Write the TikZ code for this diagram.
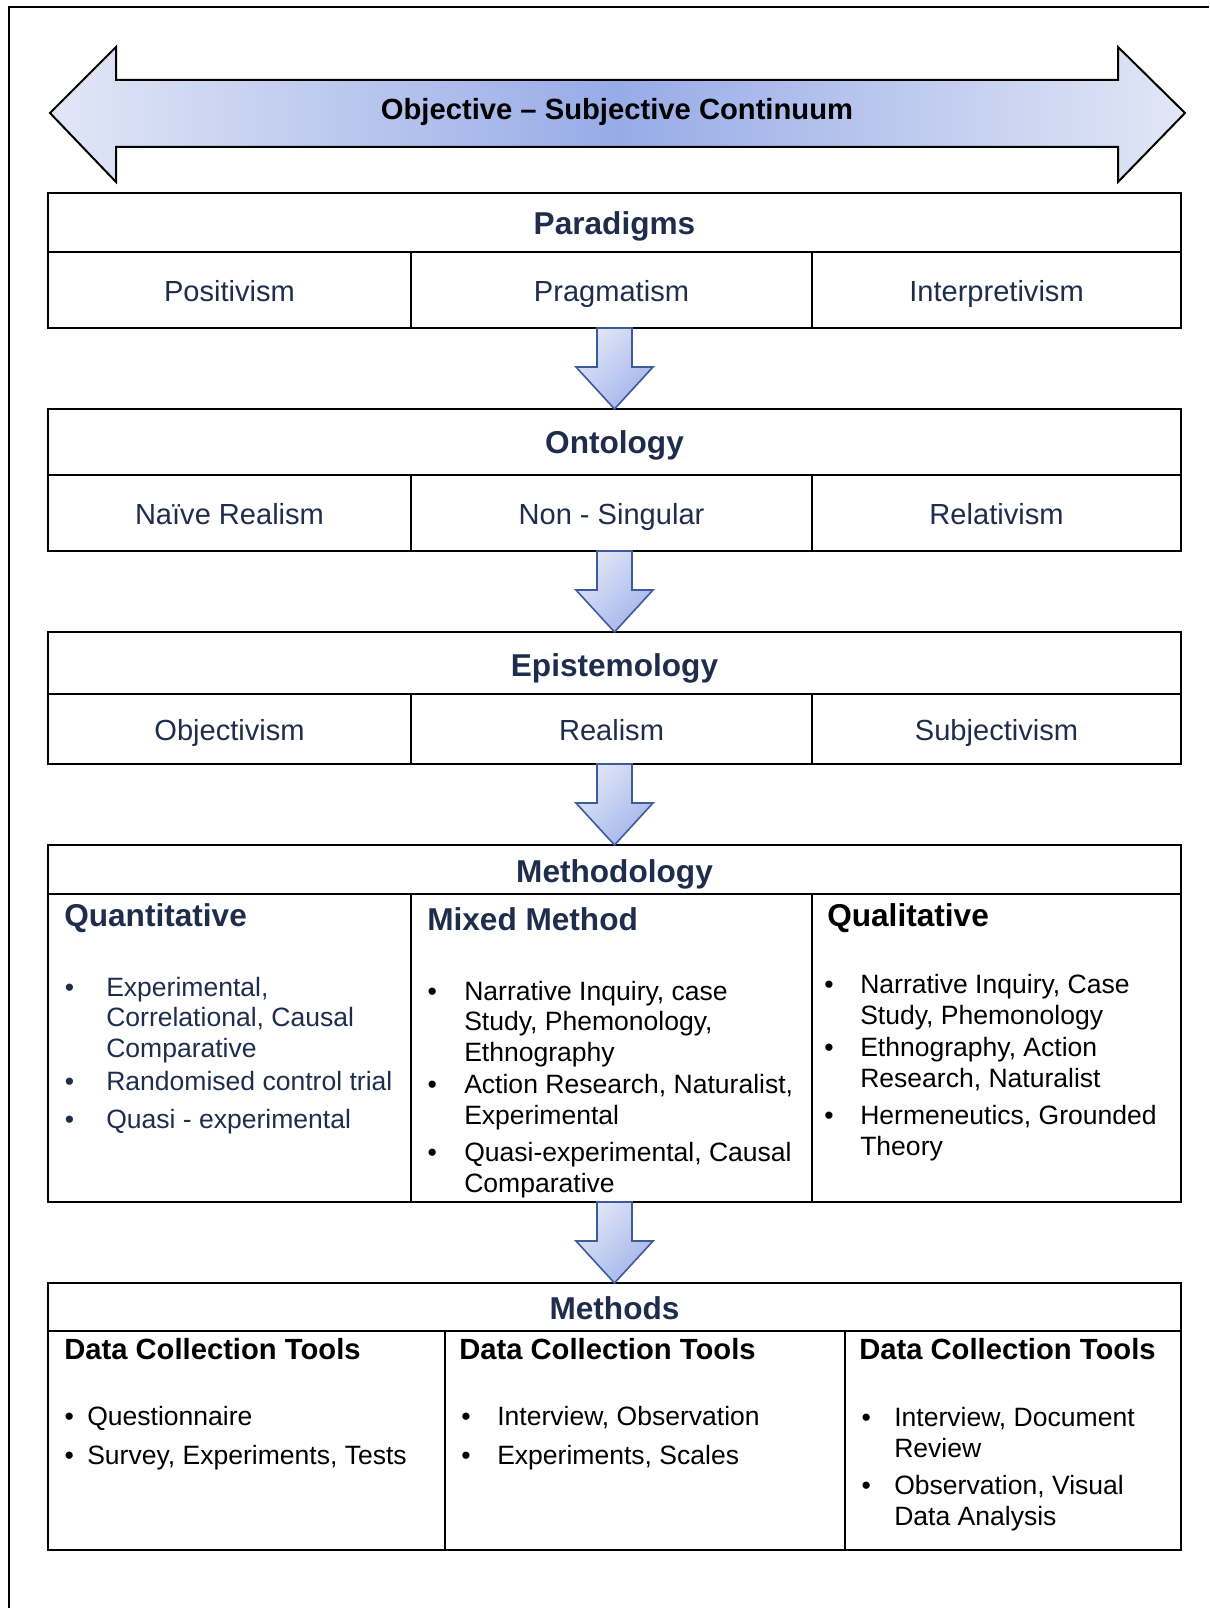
\documentclass[tikz,border=0pt]{standalone}
\usepackage{fontspec}
\setmainfont{Liberation Sans}
\usetikzlibrary{calc}

\definecolor{navy}{HTML}{1F2D4D}
\definecolor{contend}{HTML}{E2E7F6}
\definecolor{contmid}{HTML}{97ABE7}
\definecolor{flowlight}{HTML}{E0E6F7}
\definecolor{flowdark}{HTML}{A3B4EA}
\definecolor{flowedge}{HTML}{3D5A99}

% hanging bullet in front of an item
\newcommand{\bul}[1]{\llap{\textbullet\hspace{#1}}}
% block arrow from one box down to the next
\newcommand{\flowarrow}[2]{%
  \draw[flow] ($(#1)+(-17.5,0)$) -- ($(#2)+(-17.5,-42)$) -- ($(#2)+(-38.5,-42)$)
    -- (#2) -- ($(#2)+(38.5,-42)$) -- ($(#2)+(17.5,-42)$) -- ($(#1)+(17.5,0)$) -- cycle;}

\begin{document}
\begin{tikzpicture}[
    x=0.75pt, y=-0.75pt,
    box/.style={draw, line width=1.5pt, anchor=north west, inner sep=0pt, outer sep=0pt, minimum width=849.75pt},
    rule/.style={line width=1.2pt},
    flow/.style={draw=flowedge, line width=1.2pt, left color=flowlight, right color=flowdark, shading angle=45},
    hdr/.style={anchor=base, inner sep=0pt, text=navy, font=\fontsize{23.7}{28}\selectfont\bfseries},
    cell/.style={anchor=base, inner sep=0pt, text=navy, font=\fontsize{21.8}{26}\selectfont},
    sub/.style={anchor=base west, inner sep=0pt, font=\fontsize{23.7}{28}\selectfont\bfseries},
    tool/.style={anchor=base west, inner sep=0pt, font=\fontsize{21.9}{26}\selectfont\bfseries},
    item/.style={anchor=base west, inner sep=0pt, align=left, font=\fontsize{19.9}{22.7}\selectfont}
]
   \useasboundingbox (0,0) rectangle (1209,1608);

   % Frame and continuum
   \draw[line width=2pt] (9,1608) -- (9,7) -- (1209,7);
   \draw[line width=1.5pt, left color=contend, right color=contend, middle color=contmid]
     (50,113) -- (116,47) -- (116,80) -- (1118,80) -- (1118,47) -- (1185,113)
     -- (1118,182) -- (1118,147) -- (116,147) -- (116,182) -- cycle;
   \node[anchor=base, inner sep=0pt, font=\fontsize{21.9}{26}\selectfont\bfseries] (cont) at (617,120) {Objective – Subjective Continuum};

   % Boxes
   \node[box, minimum height=101.25pt] (para) at (48,193) {};
   \node[box, minimum height=106.5pt] (onto) at (48,409) {};
   \node[box, minimum height=99pt] (epis) at (48,632) {};
   \node[box, minimum height=267.75pt] (meth) at (48,845) {};
   \node[box, minimum height=200.25pt] (mthd) at (48,1283) {};

   \foreach \mid/\bot in {252/328, 475/551, 694/764, 894/1202} {
     \draw[rule] (48,\mid) -- (1181,\mid);
     \draw[rule] (411,\mid) -- (411,\bot);
     \draw[rule] (812,\mid) -- (812,\bot);
   }
   \draw[rule] (48,1331) -- (1181,1331);
   \draw[rule] (445,1331) -- (445,1550);
   \draw[rule] (845,1331) -- (845,1550);

   % Arrows
   \flowarrow{para.south}{onto.north}
   \flowarrow{onto.south}{epis.north}
   \flowarrow{epis.south}{meth.north}
   \flowarrow{meth.south}{mthd.north}

   % Paradigms, ontology, epistemology
   \node[hdr] (paraT) at (614.5,235) {Paradigms};
   \node[cell] (pos) at (229.5,301) {Positivism};
   \node[cell] (prag) at (611.5,301) {Pragmatism};
   \node[cell] (intp) at (996.5,301) {Interpretivism};

   \node[hdr] (ontoT) at (614.5,453) {Ontology};
   \node[cell] (naive) at (229.5,524) {Naïve Realism};
   \node[cell] (nonsing) at (611.5,524) {Non - Singular};
   \node[cell] (relat) at (996.5,524) {Relativism};

   \node[hdr] (episT) at (614.5,676) {Epistemology};
   \node[cell] (objv) at (229.5,740) {Objectivism};
   \node[cell] (real) at (611.5,740) {Realism};
   \node[cell] (subj) at (996.5,740) {Subjectivism};

   % Methodology (multi-line items sit on the baseline of their last line)
   \node[hdr] (methT) at (614.5,882) {Methodology};
   \node[sub, text=navy] (quant) at (64,926) {Quantitative};
   \node[sub, text=navy] (mixed) at (427,930) {Mixed Method};
   \node[sub] (qual) at (827,926) {Qualitative};

   \node[item, text=navy] (qn1) at (106,1057) {\bul{24pt}Experimental,\\Correlational, Causal\\Comparative};
   \node[item, text=navy] (qn2) at (106,1090) {\bul{24pt}Randomised control trial};
   \node[item, text=navy] (qn3) at (106,1128) {\bul{24pt}Quasi - experimental};

   \node[item] (mx1) at (464,1061) {\bul{20.5pt}Narrative Inquiry, case\\Study, Phemonology,\\Ethnography};
   \node[item] (mx2) at (464,1124) {\bul{20.5pt}Action Research, Naturalist,\\Experimental};
   \node[item] (mx3) at (464,1192) {\bul{20.5pt}Quasi-experimental, Causal\\Comparative};

   \node[item] (ql1) at (860,1024) {\bul{20pt}Narrative Inquiry, Case\\Study, Phemonology};
   \node[item] (ql2) at (860,1087) {\bul{20pt}Ethnography, Action\\Research, Naturalist};
   \node[item] (ql3) at (860,1155) {\bul{20pt}Hermeneutics, Grounded\\Theory};

   % Methods
   \node[hdr] (mthdT) at (614.5,1319) {Methods};
   \node[tool] (dct1) at (64,1359) {Data Collection Tools};
   \node[tool] (dct2) at (459,1359) {Data Collection Tools};
   \node[tool] (dct3) at (859,1359) {Data Collection Tools};

   \node[item] (t11) at (87,1425) {\bul{10pt}Questionnaire};
   \node[item] (t12) at (87,1464) {\bul{10pt}Survey, Experiments, Tests};
   \node[item] (t21) at (497,1425) {\bul{20pt}Interview, Observation};
   \node[item] (t22) at (497,1464) {\bul{20pt}Experiments, Scales};
   \node[item] (t31) at (894,1457) {\bul{17.5pt}Interview, Document\\Review};
   \node[item] (t32) at (894,1525) {\bul{17.5pt}Observation, Visual\\Data Analysis};
\end{tikzpicture}
\end{document}
